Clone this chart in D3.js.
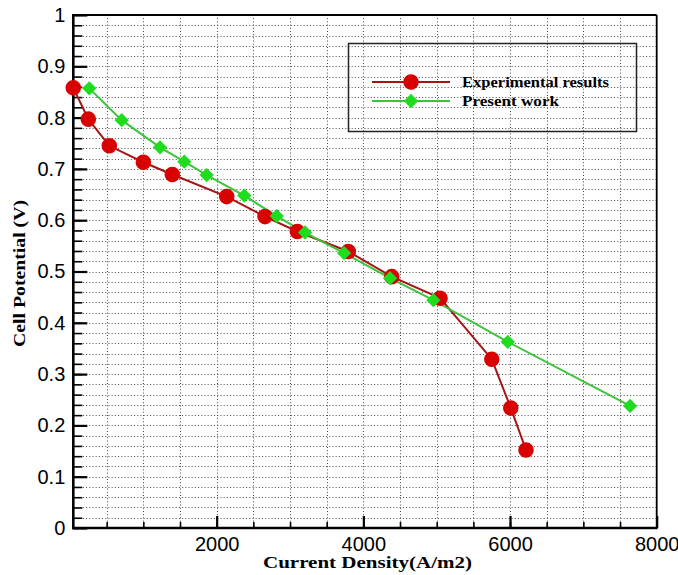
<!DOCTYPE html>
<html>
<head>
<meta charset="utf-8">
<script src="https://cdn.jsdelivr.net/npm/d3@7"></script>
<style>
  html, body { margin: 0; padding: 0; background: #fff; }
  svg { display: block; }
  .tick text { font-family: "Liberation Sans", Arial, sans-serif; font-size: 20px; fill: #000; }
</style>
</head>
<body>
<svg id="chart" width="678" height="575"></svg>
<script>
// Polarization curve: measured vs. modelled cell potential
const expCurrent = [45, 250, 536, 1000, 1395, 2137, 2659, 3100, 3795, 4387, 5046, 5751, 6010, 6218];
const expVoltage = [0.858, 0.797, 0.745, 0.713, 0.689, 0.646, 0.607, 0.578, 0.539, 0.490, 0.448, 0.329, 0.234, 0.152];

const modelCurrent = [263, 705, 1227, 1559, 1864, 2377, 2819, 3205, 3737, 4364, 4955, 5969, 7637];
const modelVoltage = [0.857, 0.795, 0.742, 0.714, 0.688, 0.648, 0.608, 0.576, 0.536, 0.487, 0.444, 0.363, 0.238];

const seriesNames = ["Experimental results", "Present work"];

const xMajorTicks = [2000, 4000, 6000, 8000];
const xTickLabels = ["2000", "4000", "6000", "8000"];
const yMajorTicks = [0, 0.1, 0.2, 0.3, 0.4, 0.5, 0.6, 0.7, 0.8, 0.9, 1];
const yTickLabels = ["0", "0.1", "0.2", "0.3", "0.4", "0.5", "0.6", "0.7", "0.8", "0.9", "1"];

const xTitle = "Current Density(A/m2)";
const yTitle = "Cell Potential (V)";

const svg = d3.select("#chart");
const plotLeft = 73.3, plotRight = 656.7, plotTop = 15, plotBottom = 528;
const serif = "'Liberation Serif', 'Times New Roman', serif";

const x = d3.scaleLinear().domain([45, 8000]).range([plotLeft, plotRight]);
const y = d3.scaleLinear().domain([0, 1]).range([plotBottom, plotTop]);

const xMinor = d3.range(500, 8000, 500);
const yMinor = d3.range(1, 50).map(i => i * 0.02);

// dotted grid
const grid = svg.append("g")
  .attr("stroke", "#4a4a4a")
  .attr("stroke-width", 1)
  .attr("stroke-dasharray", "1,2.2");
grid.selectAll("line.gx").data(xMinor).join("line")
  .attr("class", "gx")
  .attr("x1", d => Math.round(x(d)) + 0.5).attr("x2", d => Math.round(x(d)) + 0.5)
  .attr("y1", plotTop).attr("y2", plotBottom);
grid.selectAll("line.gy").data(yMinor).join("line")
  .attr("class", "gy")
  .attr("x1", plotLeft).attr("x2", plotRight)
  .attr("y1", d => Math.round(y(d)) + 0.5).attr("y2", d => Math.round(y(d)) + 0.5);

// axes: inward ticks
const yMinorAxis = d3.axisLeft(y).tickValues(yMinor).tickSize(-9).tickFormat("");
const yMajorAxis = d3.axisLeft(y).tickValues(yMajorTicks).tickSize(-14).tickPadding(8)
  .tickFormat((d, i) => yTickLabels[i]);
const xMinorAxis = d3.axisBottom(x).tickValues(xMinor).tickSize(-6).tickFormat("");
const xMajorAxis = d3.axisBottom(x).tickValues(xMajorTicks).tickSize(-12).tickPadding(9)
  .tickFormat((d, i) => xTickLabels[i]);

const gyMinor = svg.append("g").attr("transform", `translate(${plotLeft},0)`).call(yMinorAxis);
const gyMajor = svg.append("g").attr("transform", `translate(${plotLeft},0)`).call(yMajorAxis);
const gxMinor = svg.append("g").attr("transform", `translate(0,${plotBottom})`).call(xMinorAxis);
const gxMajor = svg.append("g").attr("transform", `translate(0,${plotBottom})`).call(xMajorAxis);
[gyMinor, gyMajor, gxMinor, gxMajor].forEach(g => {
  g.select(".domain").remove();
  g.attr("font-family", null).attr("font-size", null);
});
gyMinor.selectAll("line").attr("stroke", "#000").attr("stroke-width", 1.6);
gyMajor.selectAll("line").attr("stroke", "#000").attr("stroke-width", 2.2);
gxMinor.selectAll("line").attr("stroke", "#000").attr("stroke-width", 1.6);
gxMajor.selectAll("line").attr("stroke", "#000").attr("stroke-width", 2.2);

// frame
svg.append("line").attr("x1", plotLeft).attr("x2", plotRight).attr("y1", plotTop).attr("y2", plotTop)
  .attr("stroke", "#000").attr("stroke-width", 1.8);
svg.append("line").attr("x1", plotRight).attr("x2", plotRight).attr("y1", plotTop).attr("y2", plotBottom)
  .attr("stroke", "#000").attr("stroke-width", 1.8);
svg.append("line").attr("x1", plotLeft).attr("x2", plotLeft).attr("y1", plotTop - 1).attr("y2", plotBottom + 1.2)
  .attr("stroke", "#000").attr("stroke-width", 2.6);
svg.append("line").attr("x1", plotLeft - 1).attr("x2", plotRight + 1).attr("y1", plotBottom).attr("y2", plotBottom)
  .attr("stroke", "#000").attr("stroke-width", 2.6);

// axis titles (wide, bold serif)
svg.append("text")
  .attr("x", 263).attr("y", 568)
  .attr("font-family", serif)
  .attr("font-weight", "bold").attr("font-size", 16)
  .attr("textLength", 209).attr("lengthAdjust", "spacingAndGlyphs")
  .text(xTitle);
svg.append("text")
  .attr("transform", "translate(25,347) rotate(-90)")
  .attr("font-family", serif)
  .attr("font-weight", "bold").attr("font-size", 16)
  .attr("textLength", 147).attr("lengthAdjust", "spacingAndGlyphs")
  .text(yTitle);

// series
const expData = expCurrent.map((c, i) => [c, expVoltage[i]]);
const modelData = modelCurrent.map((c, i) => [c, modelVoltage[i]]);
const line = d3.line().x(d => x(d[0])).y(d => y(d[1]));

const redLine = "#a51515", redFill = "#d90000";
const greenLine = "#3cc43c", greenFill = "#1fdc1f";

const diamond = d3.symbol().type(d3.symbolDiamond2).size(130);
const circle = d3.symbol().type(d3.symbolCircle).size(190);

svg.append("path").datum(expData)
  .attr("d", line).attr("fill", "none")
  .attr("stroke", redLine).attr("stroke-width", 2);
svg.append("path").datum(modelData)
  .attr("d", line).attr("fill", "none")
  .attr("stroke", greenLine).attr("stroke-width", 2);

svg.append("g").selectAll("path").data(expData).join("path")
  .attr("transform", d => `translate(${x(d[0])},${y(d[1])})`)
  .attr("d", circle).attr("fill", redFill);
svg.append("g").selectAll("path").data(modelData).join("path")
  .attr("transform", d => `translate(${x(d[0])},${y(d[1])})`)
  .attr("d", diamond).attr("fill", greenFill);

// legend
const legend = svg.append("g");
legend.append("rect")
  .attr("x", 348.5).attr("y", 43.5).attr("width", 288).attr("height", 88)
  .attr("fill", "none").attr("stroke", "#222").attr("stroke-width", 1.5);
const legendRows = [
  { name: seriesNames[0], line: redLine, fill: redFill, sym: circle, y: 82, len: 147 },
  { name: seriesNames[1], line: greenLine, fill: greenFill, sym: diamond, y: 101, len: 97 }
];
legendRows.forEach(r => {
  legend.append("line").attr("x1", 372).attr("x2", 450).attr("y1", r.y).attr("y2", r.y)
    .attr("stroke", r.line).attr("stroke-width", 2);
  legend.append("path").attr("transform", `translate(411,${r.y})`)
    .attr("d", r.sym).attr("fill", r.fill);
  legend.append("text").attr("x", 462).attr("y", r.y + 5)
    .attr("font-family", serif)
    .attr("font-weight", "bold").attr("font-size", 14.5)
    .attr("textLength", r.len).attr("lengthAdjust", "spacingAndGlyphs")
    .text(r.name);
});
</script>
</body>
</html>
